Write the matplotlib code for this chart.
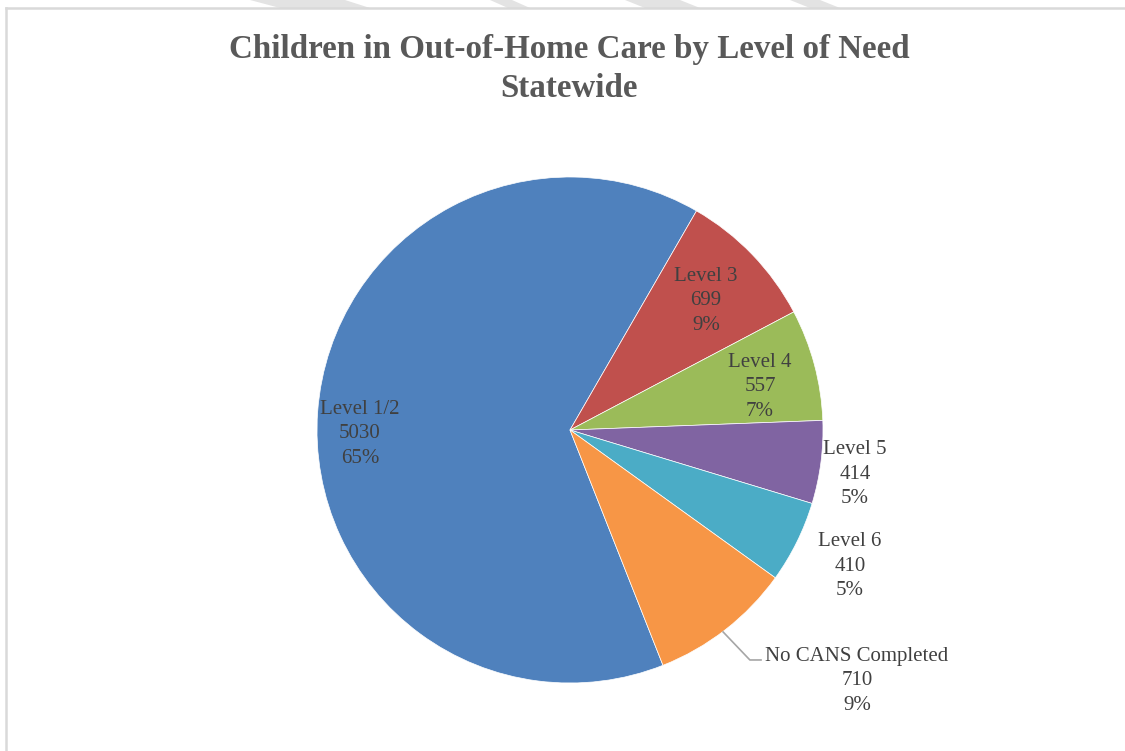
import matplotlib.pyplot as plt
from matplotlib.lines import Line2D
from matplotlib.patches import Polygon
import numpy as np

# chart data
levels = ['Level 1/2', 'Level 3', 'Level 4', 'Level 5', 'Level 6', 'No CANS Completed']
counts = [5030, 699, 557, 414, 410, 710]
pct_labels = ['65%', '9%', '7%', '5%', '5%', '9%']

colors = ['#4F81BD', '#C0504D', '#9BBB59', '#8064A2', '#4BACC6', '#F79646']
# label positions in pie units (radius = 1)
label_pos = [(-0.83, -0.015), (0.538, 0.51), (0.751, 0.17),
             (1.126, -0.175), (1.107, -0.538), (1.134, -0.992)]

W, H = 1125, 751
fig = plt.figure(figsize=(W / 100, H / 100), dpi=100)
fig.patch.set_facecolor('white')

# faint watermark shapes along the top edge
for xs in [(250, 345, 370, 280), (490, 512, 530, 508), (625, 680, 700, 645), (790, 820, 840, 810)]:
    pts = [(xs[0] / W, 1.0), (xs[1] / W, 1.0), (xs[2] / W, 1 - 8 / H), (xs[3] / W, 1 - 8 / H)]
    fig.patches.append(Polygon(pts, closed=True, transform=fig.transFigure,
                               facecolor='#E3E3E3', edgecolor='none'))

# chart frame (only top and left visible)
fig.lines.append(Line2D([6 / W, 6 / W], [0, 1 - 8 / H], transform=fig.transFigure,
                        color='#D9D9D9', lw=1.8))
fig.lines.append(Line2D([6 / W, 1], [1 - 8 / H, 1 - 8 / H], transform=fig.transFigure,
                        color='#D9D9D9', lw=1.8))

cx, cy, r = 570, 430, 253
ax = fig.add_axes([(cx - r) / W, (H - cy - r) / H, 2 * r / W, 2 * r / H])

total = sum(counts)
# Level 1/2 ends at 30 degrees clockwise from 12 o'clock
start_cw = 30 + 360 * (total - counts[0]) / total
ax.pie(counts, colors=colors, startangle=90 - start_cw, counterclock=False,
       wedgeprops=dict(edgecolor='white', linewidth=0.5))
ax.set_xlim(-1, 1)
ax.set_ylim(-1, 1)
ax.axis('off')

font = ['Liberation Serif', 'DejaVu Serif']
for i, (x, y) in enumerate(label_pos):
    ax.text(x, y, '{}\n{}\n{}'.format(levels[i], counts[i], pct_labels[i]),
            ha='center', va='center', fontsize=15, color='#404040',
            family=font, linespacing=1.4, clip_on=False)

# leader line for the last slice
ax.plot([0.605, 0.711, 0.755], [-0.798, -0.909, -0.909], color='#A6A6A6', lw=1.2,
        clip_on=False)

fig.text(569 / W, 1 - 69 / H, 'Children in Out-of-Home Care by Level of Need\nStatewide',
         ha='center', va='center', fontsize=23.8, fontweight='bold', color='#595959',
         family=font, linespacing=1.3)

fig.savefig('out.png', dpi=100)
